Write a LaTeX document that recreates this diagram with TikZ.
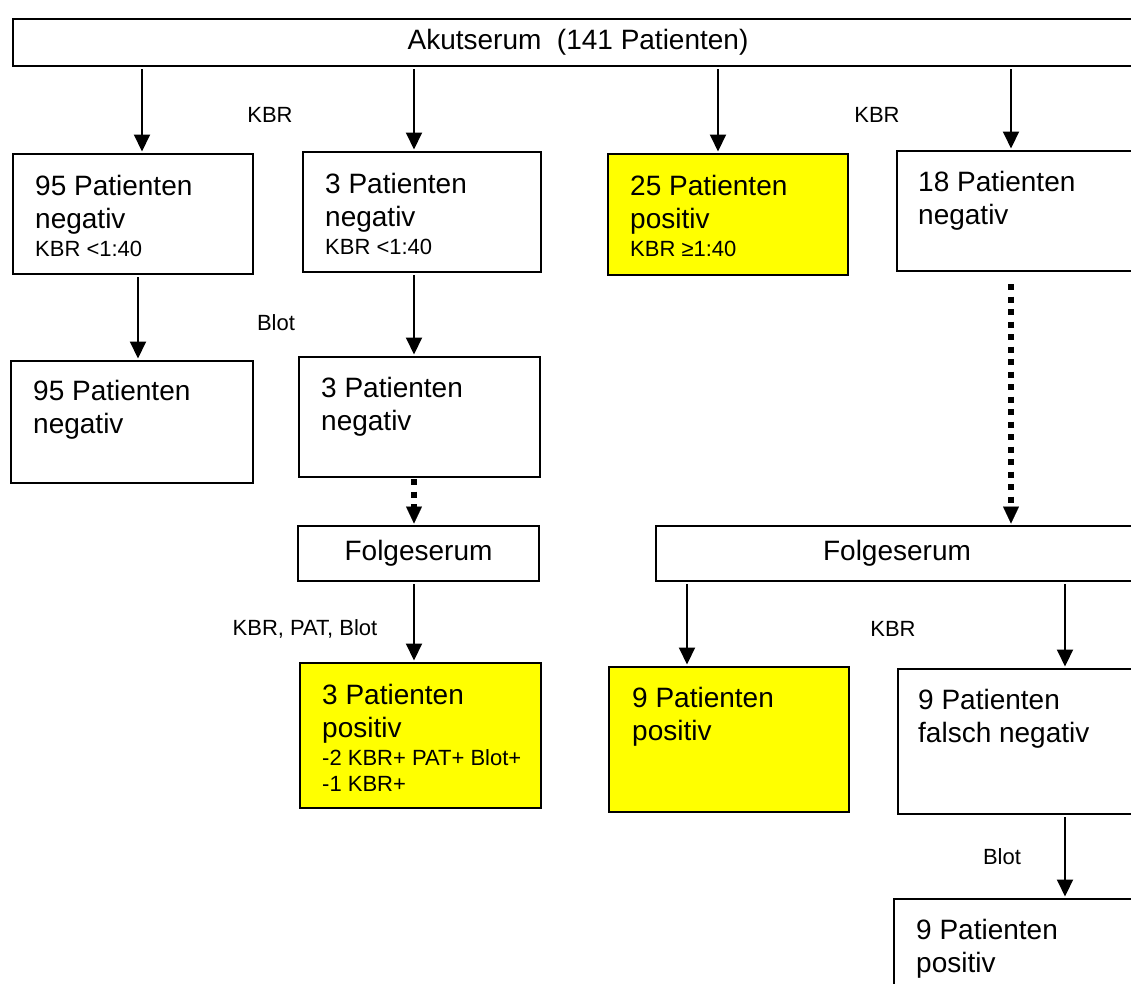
\documentclass[tikz,border=0pt]{standalone}
\usepackage{fontspec}
\setmainfont{Liberation Sans}
\usetikzlibrary{arrows.meta}
\definecolor{hiyellow}{RGB}{255,255,0}
\newcommand{\smtxt}[1]{{\fontsize{22}{26}\selectfont #1}}

\begin{document}
\begin{tikzpicture}[x=1pt,y=-1pt,
  box/.style={draw, line width=2pt, rectangle, anchor=north west, inner sep=0pt},
  hit/.style={box, fill=hiyellow},
  txt/.style={anchor=north west, align=left, inner sep=0pt, font=\fontsize{28}{33}\selectfont},
  lbl/.style={inner sep=0pt, font=\fontsize{22}{26}\selectfont},
  arr/.style={line width=2pt, -{Triangle[width=16pt,length=17pt]}, shorten <=2pt, shorten >=1.5pt},
  dotarr/.style={line width=6pt, dash pattern=on 6pt off 6.5pt,
    -{Triangle[width=16pt,length=17pt,line width=0.1pt]}, shorten >=1.5pt}]
\useasboundingbox (0,0) rectangle (1131,983);
\clip (0,0) rectangle (1131,983);

% top row
\node[box, minimum width=1130pt, minimum height=47pt, font=\fontsize{28}{33}\selectfont] (top) at (12,18) {Akutserum\ \ (141 Patienten)};

\node[box, minimum width=240pt, minimum height=120pt] (b1) at (12,153) {};
\node[txt] (b1t) at ([xshift=23pt,yshift=-22pt]b1.north west) {95 Patienten\\negativ\\[-5pt]\smtxt{KBR <1:40}};

\node[box, minimum width=238pt, minimum height=120pt] (b2) at (302,151) {};
\node[txt] (b2t) at ([xshift=23pt,yshift=-22pt]b2.north west) {3 Patienten\\negativ\\[-5pt]\smtxt{KBR <1:40}};

\node[hit, minimum width=240pt, minimum height=121pt] (b3) at (607,153) {};
\node[txt] (b3t) at ([xshift=23pt,yshift=-22pt]b3.north west) {25 Patienten\\positiv\\[-5pt]\smtxt{KBR ≥1:40}};

\node[box, minimum width=300pt, minimum height=120pt] (b4) at (896,150) {};
\node[txt] (b4t) at ([xshift=22pt,yshift=-21pt]b4.north west) {18 Patienten\\negativ};

% second row
\node[box, minimum width=242pt, minimum height=122pt] (b5) at (10,360) {};
\node[txt] (b5t) at ([xshift=23pt,yshift=-20pt]b5.north west) {95 Patienten\\negativ};

\node[box, minimum width=241pt, minimum height=120pt] (b6) at (298,356) {};
\node[txt] (b6t) at ([xshift=23pt,yshift=-21pt]b6.north west) {3 Patienten\\negativ};

% follow-up sera
\node[box, minimum width=241pt, minimum height=55pt, font=\fontsize{28}{33}\selectfont] (f1) at (297,525) {Folgeserum};
\node[box, minimum width=482pt, minimum height=55pt, font=\fontsize{28}{33}\selectfont] (f2) at (655,525) {Folgeserum};

% results of the follow-up sera
\node[hit, minimum width=241pt, minimum height=145pt] (b7) at (299,662) {};
\node[txt] (b7t) at ([xshift=23pt,yshift=-22pt]b7.north west) {3 Patienten\\positiv\\[-5pt]\smtxt{-2 KBR+ PAT+ Blot+}\\[-7pt]\smtxt{-1 KBR+}};

\node[hit, minimum width=240pt, minimum height=145pt] (b8) at (608,666) {};
\node[txt] (b8t) at ([xshift=24pt,yshift=-21pt]b8.north west) {9 Patienten\\positiv};

\node[box, minimum width=300pt, minimum height=145pt] (b9) at (897,668) {};
\node[txt] (b9t) at ([xshift=21pt,yshift=-21pt]b9.north west) {9 Patienten\\falsch negativ};

\node[box, minimum width=300pt, minimum height=150pt] (b10) at (893,898) {};
\node[txt] (b10t) at ([xshift=23pt,yshift=-21pt]b10.north west) {9 Patienten\\positiv};

% connectors
\draw[arr] ([xshift=9pt]b1.north |- top.south) -- ([xshift=9pt]b1.north);
\draw[arr] ([xshift=-8pt]b2.north |- top.south) -- ([xshift=-8pt]b2.north);
\draw[arr] ([xshift=-10pt]b3.north |- top.south) -- ([xshift=-10pt]b3.north);
\draw[arr] ([xshift=-36pt]b4.north |- top.south) -- ([xshift=-36pt]b4.north);

\draw[arr] ([xshift=5pt]b1.south) -- ([xshift=5pt]b1.south |- b5.north);
\draw[arr] ([xshift=-8pt]b2.south) -- ([xshift=-8pt]b2.south |- b6.north);

\draw[dotarr, shorten <=1pt] ([xshift=-5.5pt]b6.south) -- ([xshift=-5.5pt]b6.south |- f1.north);
\draw[dotarr, shorten <=12pt] ([xshift=-36pt]b4.south) -- ([xshift=-36pt]b4.south |- f2.north);

\draw[arr] ([xshift=-4.5pt]f1.south) -- ([xshift=-4.5pt]f1.south |- b7.north);
\draw[arr] ([xshift=-42pt]b8.north |- f2.south) -- ([xshift=-42pt]b8.north);
\draw[arr] ([xshift=17pt]b9.north |- f2.south) -- ([xshift=17pt]b9.north);
\draw[arr] ([xshift=17pt]b9.south) -- ([xshift=17pt]b9.south |- b10.north);

% test labels
\node[lbl] (l1) at (270,115) {KBR};
\node[lbl] (l2) at (877,115) {KBR};
\node[lbl] (l3) at (276,323) {Blot};
\node[lbl] (l4) at (305,629) {KBR, PAT, Blot};
\node[lbl] (l5) at (893,629) {KBR};
\node[lbl] (l6) at (1002,857) {Blot};
\end{tikzpicture}
\end{document}
